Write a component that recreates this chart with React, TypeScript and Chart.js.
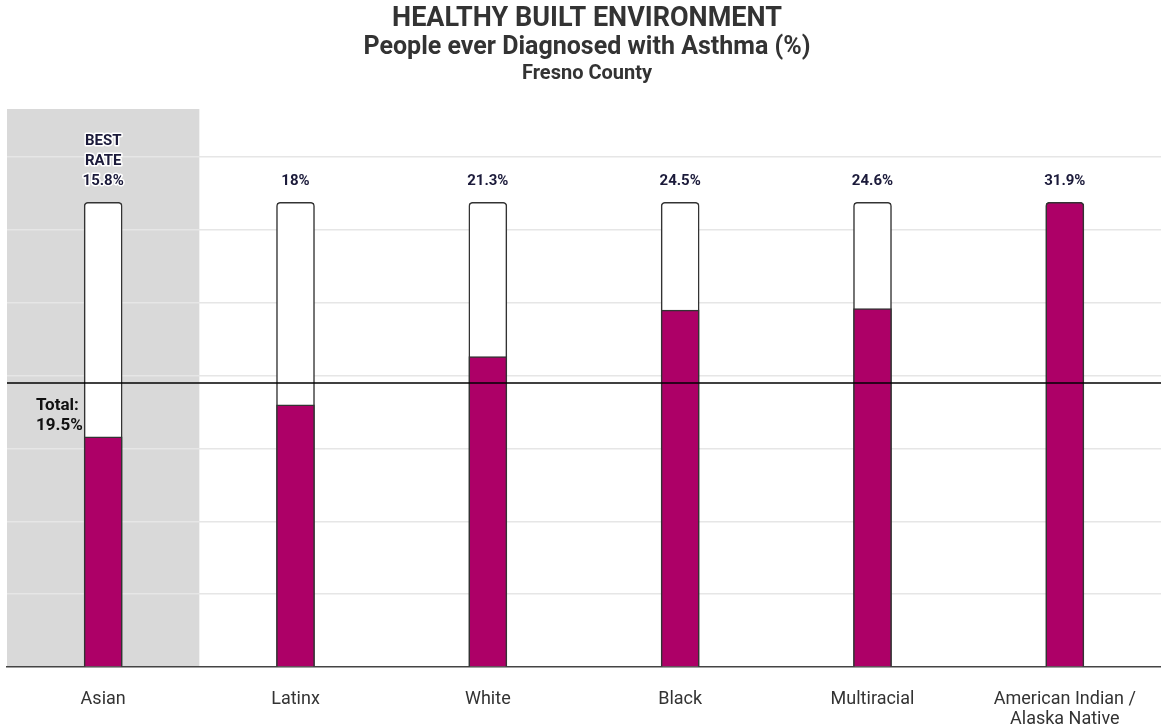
import React, { useEffect, useRef } from "react";
import { Chart, registerables } from "chart.js";

Chart.register(...registerables);

const categories: (string | string[])[] = ["Asian", "Latinx", "White", "Black", "Multiracial", ["American Indian /", "Alaska Native"]];
const values: number[] = [15.8, 18, 21.3, 24.5, 24.6, 31.9];
const valueLabels: string[] = ["15.8%", "18%", "21.3%", "24.5%", "24.6%", "31.9%"];
const totalValue = 19.5;
const totalLabel = ["Total:", "19.5%"];
const bestIndex = 0;
const bestLabel = ["BEST", "RATE"];
const titleLines = ["HEALTHY BUILT ENVIRONMENT", "People ever Diagnosed with Asthma (%)", "Fresno County"];
const yMax = 38.3;
const gridStep = 5;
const gridTop = 35;

const MAGENTA = "#AD0067";
const FONT = "Roboto";

export default function App() {
  const ref = useRef<HTMLCanvasElement | null>(null);

  useEffect(() => {
    if (!ref.current) return;
    const maxVal = Math.max(...values);

    const decor = {
      id: "decor",
      beforeDraw(chart: any) {
        const { ctx, chartArea, scales } = chart;
        const x = scales.x;
        const w = x.getPixelForValue(1) - x.getPixelForValue(0);
        const cx = x.getPixelForValue(bestIndex);
        ctx.save();
        ctx.fillStyle = "#d9d9d9";
        ctx.fillRect(cx - w / 2, chartArea.top, w, chartArea.bottom - chartArea.top);
        ctx.restore();
        // titles
        ctx.save();
        ctx.textAlign = "center";
        ctx.textBaseline = "middle";
        ctx.fillStyle = "#333333";
        const mid = 587;
        ctx.font = `bold 27px ${FONT}`;
        ctx.fillText(titleLines[0], mid, 19);
        ctx.font = `bold 25px ${FONT}`;
        ctx.fillText(titleLines[1], mid, 48);
        ctx.font = `bold 20px ${FONT}`;
        ctx.fillText(titleLines[2], mid, 74);
        ctx.restore();
      },
      afterDatasetsDraw(chart: any) {
        const { ctx, chartArea, scales } = chart;
        const x = scales.x;
        const y = scales.y;
        const topY = y.getPixelForValue(maxVal) - 21;
        ctx.save();
        ctx.textAlign = "center";
        ctx.textBaseline = "middle";
        ctx.font = `bold 15px ${FONT}`;
        values.forEach((v, i) => {
          const cx = x.getPixelForValue(i);
          const lines = i === bestIndex ? [...bestLabel, valueLabels[i]] : [valueLabels[i]];
          lines.forEach((t, j) => {
            const ly = topY - (lines.length - 1 - j) * 20;
            if (i === bestIndex) {
              ctx.strokeStyle = "#ffffff";
              ctx.lineWidth = 3;
              ctx.lineJoin = "round";
              ctx.strokeText(t, cx, ly);
            }
            ctx.fillStyle = "#1b1a3a";
            ctx.fillText(t, cx, ly);
          });
        });
        // total line
        const ty = y.getPixelForValue(totalValue);
        ctx.strokeStyle = "#000000";
        ctx.lineWidth = 1.5;
        ctx.beginPath();
        ctx.moveTo(chartArea.left, ty);
        ctx.lineTo(chartArea.right, ty);
        ctx.stroke();
        ctx.fillStyle = "#111111";
        ctx.textAlign = "left";
        ctx.font = `bold 17px ${FONT}`;
        ctx.fillText(totalLabel[0], 36, ty + 23);
        ctx.fillText(totalLabel[1], 36, ty + 43);
        ctx.restore();
      },
    };

    const chart = new Chart(ref.current, {
      type: "bar",
      data: {
        labels: categories,
        datasets: [
          {
            label: "value",
            data: values,
            backgroundColor: MAGENTA,
            borderColor: "#333333",
            borderWidth: 1.5,
            borderSkipped: "bottom",
            borderRadius: (c: any) => (c.raw === maxVal ? { topLeft: 4, topRight: 4, bottomLeft: 0, bottomRight: 0 } : 0),
            barThickness: 38,
            grouped: false,
            order: 1,
          },
          {
            label: "max",
            data: values.map(() => maxVal),
            backgroundColor: "#ffffff",
            borderColor: "#333333",
            borderWidth: 1.5,
            borderSkipped: "bottom",
            borderRadius: { topLeft: 4, topRight: 4, bottomLeft: 0, bottomRight: 0 },
            barThickness: 38,
            grouped: false,
            order: 2,
          },
        ],
      },
      options: {
        responsive: false,
        animation: false,
        layout: { padding: { top: 109, left: 7, right: 0, bottom: -24 } },
        plugins: {
          legend: { display: false },
          tooltip: { enabled: false },
          title: { display: false },
        },
        scales: {
          x: {
            grid: { display: false, drawTicks: false },
            border: { display: true, color: "#444444", width: 1.5 },
            ticks: {
              color: "#333333",
              font: { family: FONT, size: 18, lineHeight: 1.11 },
              padding: 22,
              maxRotation: 0,
              autoSkip: false,
            },
          },
          y: {
            min: 0,
            max: yMax,
            grid: {
              drawTicks: false,
              color: (c: any) => (c.tick && c.tick.value > gridTop + 0.01 ? "rgba(0,0,0,0)" : c.tick && c.tick.value === 0 ? "rgba(0,0,0,0)" : "#e6e6e6"),
              lineWidth: 1.5,
            },
            border: { display: false },
            ticks: { display: false, stepSize: gridStep },
          },
        },
      },
      plugins: [decor],
    } as any);

    return () => chart.destroy();
  }, []);

  return (
    <div style={{ position: "fixed", left: 0, top: 0, width: 1161, height: 727, background: "#ffffff" }}>
      <canvas ref={ref} width={1161} height={727} style={{ display: "block" }} />
    </div>
  );
}
